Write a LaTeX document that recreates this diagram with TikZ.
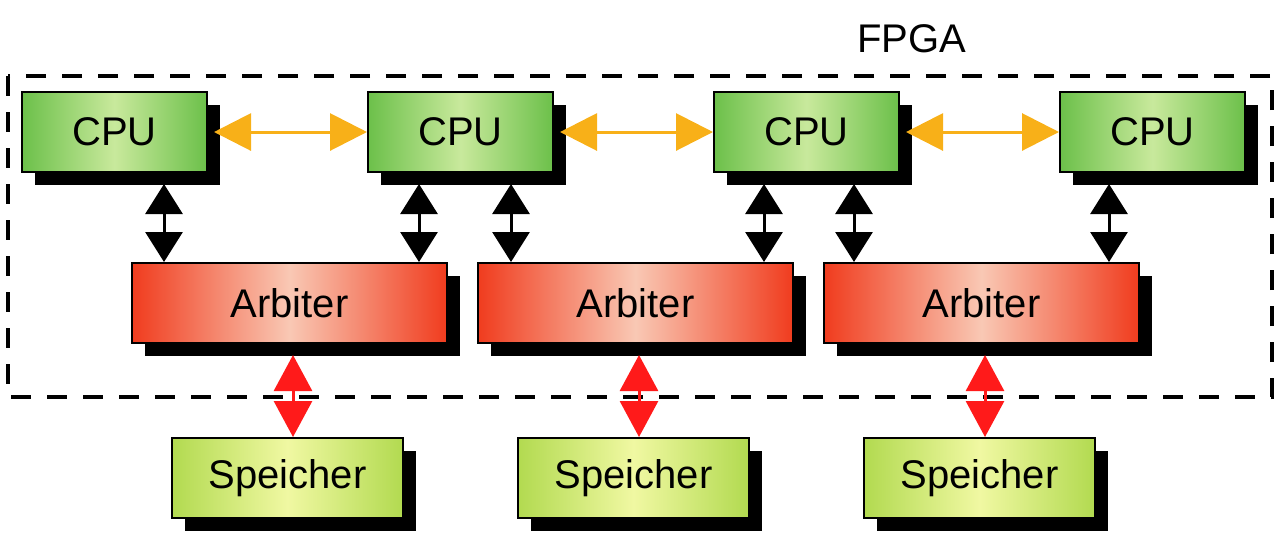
\documentclass[tikz,border=0pt]{standalone}
\usepackage{fontspec}
\setmainfont{Liberation Sans}
\usetikzlibrary{shadows,arrows.meta,calc}
\definecolor{cpuedge}{HTML}{6CC04A}
\definecolor{cpumid}{HTML}{C8E99C}
\definecolor{arbedge}{HTML}{F03C1E}
\definecolor{arbmid}{HTML}{F9C8B4}
\definecolor{memedge}{HTML}{B2DA50}
\definecolor{memmid}{HTML}{F0F8A2}
\definecolor{orangearr}{HTML}{F8B018}
\definecolor{redarr}{HTML}{FF1A1A}
\tikzset{
  box/.style={draw=black, line width=1pt, inner sep=0pt, minimum height=40pt,
    font=\fontsize{20}{24}\selectfont,
    drop shadow={shadow xshift=6.5pt, shadow yshift=-6.5pt, opacity=1, fill=black}},
  cpubox/.style={box, minimum width=92.5pt, left color=cpuedge, right color=cpuedge, middle color=cpumid},
  arbbox/.style={box, minimum width=157.5pt, left color=arbedge, right color=arbedge, middle color=arbmid},
  membox/.style={box, minimum width=115.5pt, left color=memedge, right color=memedge, middle color=memmid},
  oarr/.style={draw=orangearr, line width=1.5pt, {Triangle[length=18.5pt,width=18.5pt,fill=orangearr]}-{Triangle[length=18.5pt,width=18.5pt,fill=orangearr]}},
  barr/.style={draw=black, line width=1.5pt, {Triangle[length=15pt,width=18.5pt]}-{Triangle[length=15pt,width=18.5pt]}},
  rarr/.style={draw=redarr, line width=1.5pt, {Triangle[length=18pt,width=19pt,fill=redarr]}-{Triangle[length=18pt,width=19pt,fill=redarr]}},
  fpga/.style={draw=black, line width=2.3pt, dash pattern=on 10pt off 8pt}
}
\begin{document}
\begin{tikzpicture}[x=0.5pt,y=-0.5pt]
\useasboundingbox (0,0) rectangle (1280,532);
\draw[fpga] (8,76) rectangle (1272,397);
\node[font=\fontsize{20}{24}\selectfont] (lbl) at (912,39) {FPGA};
% CPUs
\node[cpubox] (c1) at (114.5,132) {CPU};
\node[cpubox] (c2) at (460.5,132) {CPU};
\node[cpubox] (c3) at (806.5,132) {CPU};
\node[cpubox] (c4) at (1152.5,132) {CPU};
% Arbiters
\node[arbbox] (a1) at (289.5,303) {Arbiter};
\node[arbbox] (a2) at (635.5,303) {Arbiter};
\node[arbbox] (a3) at (981.5,303) {Arbiter};
% Memories
\node[membox] (s1) at (287.5,478) {Speicher};
\node[membox] (s2) at (633.5,478) {Speicher};
\node[membox] (s3) at (979.5,478) {Speicher};
% orange links
\draw[oarr] ([xshift=3pt]c1.east) -- (c2.west);
\draw[oarr] ([xshift=3pt]c2.east) -- (c3.west);
\draw[oarr] ([xshift=3pt]c3.east) -- (c4.west);
% black links
\draw[barr] ($(c1.south west)+(143,11)$) -- ($(a1.north west)+(33,0)$);
\draw[barr] ($(c2.south west)+(52,11)$) -- ($(a1.north west)+(288,0)$);
\draw[barr] ($(c2.south west)+(144,11)$) -- ($(a2.north west)+(34,0)$);
\draw[barr] ($(c3.south west)+(51,11)$) -- ($(a2.north west)+(287,0)$);
\draw[barr] ($(c3.south west)+(141,11)$) -- ($(a3.north west)+(31,0)$);
\draw[barr] ($(c4.south west)+(50,11)$) -- ($(a3.north west)+(286,0)$);
% red links
\coordinate (r1) at ($(a1.south)+(3.5,11)$);
\coordinate (r2) at ($(a2.south)+(3.5,11)$);
\coordinate (r3) at ($(a3.south)+(3.5,11)$);
\draw[rarr] (r1) -- (r1 |- s1.north);
\draw[rarr] (r2) -- (r2 |- s2.north);
\draw[rarr] (r3) -- (r3 |- s3.north);
\end{tikzpicture}
\end{document}
